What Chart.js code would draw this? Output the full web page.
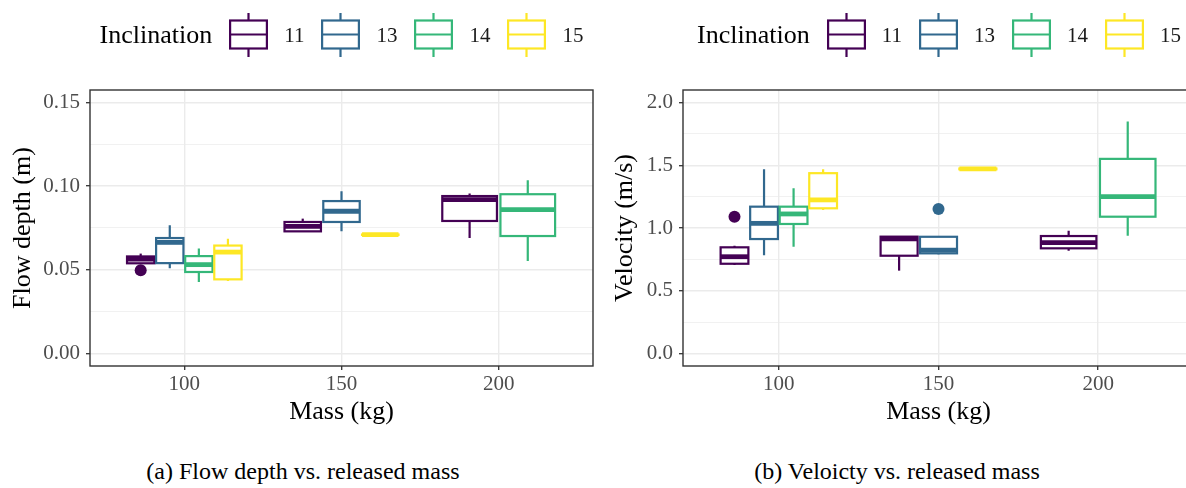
<!DOCTYPE html>
<html>
<head>
<meta charset="utf-8">
<script src="https://cdn.jsdelivr.net/npm/chart.js@4.4.1/dist/chart.umd.min.js"></script>
<style>
  body { margin: 0; width: 1186px; height: 488px; overflow: hidden; position: relative; background: #fff; font-family: "Liberation Serif", "Times New Roman", serif; color: #000; }
  .panel { position: absolute; top: 0; width: 600px; height: 488px; }
  .panel canvas { position: absolute; left: 0; top: 0; }
  .legend { position: absolute; top: 13px; height: 44px; display: flex; justify-content: center; align-items: center; }
  .legend .title { font-size: 26px; margin-right: 17px; }
  .legend svg { margin-right: 16px; }
  .legend .lab { font-size: 21px; color: #1a1a1a; margin-right: 17px; }
  .legend .lab:last-child { margin-right: 0; }
  .caption { position: absolute; top: 458px; font-size: 24px; text-align: center; }
</style>
</head>
<body>
<div class="panel" id="panelA" style="left:0">
  <canvas id="depthChart" width="600" height="430"></canvas>
  <div class="legend" id="legendA" style="left:90px;width:503px"></div>
  <div class="caption" style="left:0;width:606px">(a) Flow depth vs. released mass</div>
</div>
<div class="panel" id="panelB" style="left:600px">
  <canvas id="velChart" width="600" height="430"></canvas>
  <div class="legend" id="legendB" style="left:83px;width:512px"></div>
  <div class="caption" style="left:0;width:594px">(b) Veloicty vs. released mass</div>
</div>
<script>
const masses = ['100', '150', '200'];
const inclinations = ['11', '13', '14', '15'];
const colors = ['#440154', '#31688E', '#35B779', '#FDE725'];

// [min, q1, median, q3, max] for each mass, null = no runs
const depth11 = [[0.0539, 0.0539, 0.0564, 0.0580, 0.0597], [0.0730, 0.0730, 0.0760, 0.0786, 0.0806], [0.0690, 0.0792, 0.0920, 0.0941, 0.0956]];
const depth13 = [[0.0510, 0.0540, 0.0664, 0.0690, 0.0766], [0.0730, 0.0786, 0.0850, 0.0911, 0.0970], null];
const depth14 = [[0.0427, 0.0487, 0.0531, 0.0582, 0.0627], null, [0.0552, 0.0702, 0.0860, 0.0952, 0.1035]];
const depth15 = [[0.0433, 0.0443, 0.0606, 0.0645, 0.0686], [0.0708, 0.0709, 0.0710, 0.0711, 0.0712], null];
const depthOutlierInc = ['11'];
const depthOutlierMass = ['100'];
const depthOutlierValue = [0.0497];

const vel11 = [[0.705, 0.715, 0.771, 0.846, 0.859], [0.660, 0.779, 0.913, 0.931, 0.931], [0.819, 0.838, 0.883, 0.936, 0.978]];
const vel13 = [[0.782, 0.912, 1.037, 1.170, 1.468], [0.790, 0.798, 0.824, 0.930, 0.930], null];
const vel14 = [[0.851, 1.032, 1.112, 1.170, 1.317], null, [0.939, 1.090, 1.250, 1.551, 1.848]];
const vel15 = [[1.144, 1.157, 1.224, 1.437, 1.468], [1.465, 1.468, 1.471, 1.474, 1.476], null];
const velOutlierInc = ['11', '13'];
const velOutlierMass = ['100', '150'];
const velOutlierValue = [1.09, 1.152];

const depthTicks = [0, 0.05, 0.10, 0.15];
const depthTickLabels = ['0.00', '0.05', '0.10', '0.15'];
const velTicks = [0, 0.5, 1.0, 1.5, 2.0];
const velTickLabels = ['0.0', '0.5', '1.0', '1.5', '2.0'];

const groupWidth = 0.74;
const boxFrac = 0.94;
const serif = '"Liberation Serif", "Times New Roman", serif';

// ggplot-style dodge: boxes present at a mass share the group width
function boxSlot(allStats, m, s) {
    const present = [];
    allStats.forEach((st, i) => { if (st[m]) present.push(i); });
    const w = groupWidth / present.length;
    return { x: m + 1 - groupWidth / 2 + w * (present.indexOf(s) + 0.5), w: w * boxFrac };
}

const boxplotPlugin = {
    id: 'boxplot',
    beforeDatasetsDraw(chart) {
        const { ctx, scales: { x, y } } = chart;
        const all = chart.data.datasets.map(d => d.stats);
        chart.data.datasets.forEach((ds, s) => {
            ds.stats.forEach((st, m) => {
                if (!st) return;
                const slot = boxSlot(all, m, s);
                const cx = x.getPixelForValue(slot.x);
                const left = x.getPixelForValue(slot.x - slot.w / 2);
                const right = x.getPixelForValue(slot.x + slot.w / 2);
                const [pMin, pQ1, pMed, pQ3, pMax] = st.map(v => y.getPixelForValue(v));
                ctx.save();
                ctx.strokeStyle = ds.borderColor;
                ctx.lineJoin = 'miter';
                ctx.lineWidth = 2.2;
                ctx.beginPath();
                ctx.moveTo(cx, pMax); ctx.lineTo(cx, pQ3);
                ctx.moveTo(cx, pQ1); ctx.lineTo(cx, pMin);
                ctx.stroke();
                ctx.fillStyle = '#fff';
                ctx.fillRect(left, pQ3, right - left, pQ1 - pQ3);
                ctx.strokeRect(left, pQ3, right - left, pQ1 - pQ3);
                ctx.lineWidth = 4.8;
                ctx.beginPath();
                ctx.moveTo(left, pMed); ctx.lineTo(right, pMed);
                ctx.stroke();
                ctx.restore();
            });
        });
    },
    afterDatasetsDraw(chart) {
        const { ctx, chartArea: a } = chart;
        ctx.save();
        ctx.strokeStyle = '#333333';
        ctx.lineWidth = 1.4;
        ctx.strokeRect(a.left, a.top, a.right - a.left, a.bottom - a.top);
        ctx.restore();
    }
};

function tickList(majors, labels) {
    const list = [];
    majors.forEach((v, i) => {
        list.push({ value: v, lab: labels[i] });
        if (i < majors.length - 1) list.push({ value: (v + majors[i + 1]) / 2, minor: true });
    });
    return list;
}

function makeChart(id, cfg) {
    const seriesStats = cfg.stats;
    const datasets = inclinations.map((inc, s) => {
        const pts = [];
        cfg.outInc.forEach((oi, k) => {
            if (oi !== inc) return;
            const m = masses.indexOf(cfg.outMass[k]);
            pts.push({ x: boxSlot(seriesStats, m, s).x, y: cfg.outValue[k] });
        });
        return {
            label: inc,
            data: pts,
            stats: seriesStats[s],
            borderColor: colors[s],
            backgroundColor: colors[s],
            pointRadius: 6,
            pointBorderWidth: 0,
            pointHoverRadius: 6
        };
    });
    const yTicks = tickList(cfg.ticks, cfg.tickLabels);
    return new Chart(document.getElementById(id), {
        type: 'scatter',
        data: { datasets: datasets },
        plugins: [boxplotPlugin],
        options: {
            responsive: false,
            animation: false,
            layout: { padding: { left: 0, right: cfg.padRight, top: 90, bottom: 0 } },
            plugins: { legend: { display: false }, tooltip: { enabled: false } },
            scales: {
                x: {
                    type: 'linear',
                    min: 0.4,
                    max: 3.6,
                    afterBuildTicks: scale => { scale.ticks = masses.map((_, i) => ({ value: i + 1 })); },
                    afterFit: scale => { scale.height = 64; },
                    ticks: {
                        autoSkip: false,
                        padding: 2,
                        color: '#4D4D4D',
                        font: { family: serif, size: 21 },
                        callback: v => masses[v - 1]
                    },
                    grid: { color: '#EBEBEB', lineWidth: 1.4, tickColor: '#333333', tickLength: 4, tickWidth: 1.3 },
                    border: { display: false },
                    title: {
                        display: true,
                        text: 'Mass (kg)',
                        color: '#000',
                        font: { family: serif, size: 26 },
                        padding: { top: 0, bottom: 2 }
                    }
                },
                y: {
                    min: cfg.min,
                    max: cfg.max,
                    afterBuildTicks: scale => { scale.ticks = yTicks.map(t => Object.assign({}, t)); },
                    afterFit: scale => { scale.width = cfg.yWidth; },
                    ticks: {
                        autoSkip: false,
                        padding: 6,
                        color: '#4D4D4D',
                        font: { family: serif, size: 21 },
                        callback: (v, i, ticks) => ticks[i].lab || ''
                    },
                    grid: {
                        color: '#EBEBEB',
                        lineWidth: c => (c.tick && c.tick.minor ? 0.7 : 1.4),
                        tickColor: c => (c.tick && c.tick.minor ? 'rgba(0,0,0,0)' : '#333333'),
                        tickLength: 4,
                        tickWidth: 1.3
                    },
                    border: { display: false },
                    title: {
                        display: true,
                        text: cfg.title,
                        color: '#000',
                        font: { family: serif, size: 26 },
                        padding: { top: cfg.titlePad, bottom: 0 }
                    }
                }
            }
        }
    });
}

function buildLegend(id) {
    const el = document.getElementById(id);
    const t = document.createElement('span');
    t.className = 'title';
    t.textContent = 'Inclination';
    el.appendChild(t);
    inclinations.forEach((inc, i) => {
        el.insertAdjacentHTML('beforeend',
            '<svg width="39" height="44" viewBox="0 0 39 44">' +
            '<line x1="19.5" y1="0" x2="19.5" y2="44" stroke="' + colors[i] + '" stroke-width="2.2"/>' +
            '<rect x="1.1" y="7.5" width="36.8" height="28" fill="#fff" stroke="' + colors[i] + '" stroke-width="2.2"/>' +
            '<line x1="1.1" y1="21.5" x2="37.9" y2="21.5" stroke="' + colors[i] + '" stroke-width="2.2"/></svg>' +
            '<span class="lab">' + inc + '</span>');
    });
}

buildLegend('legendA');
buildLegend('legendB');

makeChart('depthChart', {
    stats: [depth11, depth13, depth14, depth15],
    outInc: depthOutlierInc, outMass: depthOutlierMass, outValue: depthOutlierValue,
    ticks: depthTicks, tickLabels: depthTickLabels,
    min: -0.0075, max: 0.1575,
    title: 'Flow depth (m)',
    yWidth: 90, titlePad: 8, padRight: 7
});

makeChart('velChart', {
    stats: [vel11, vel13, vel14, vel15],
    outInc: velOutlierInc, outMass: velOutlierMass, outValue: velOutlierValue,
    ticks: velTicks, tickLabels: velTickLabels,
    min: -0.1, max: 2.1,
    title: 'Velocity (m/s)',
    yWidth: 83, titlePad: 10, padRight: 5
});
</script>
</body>
</html>
